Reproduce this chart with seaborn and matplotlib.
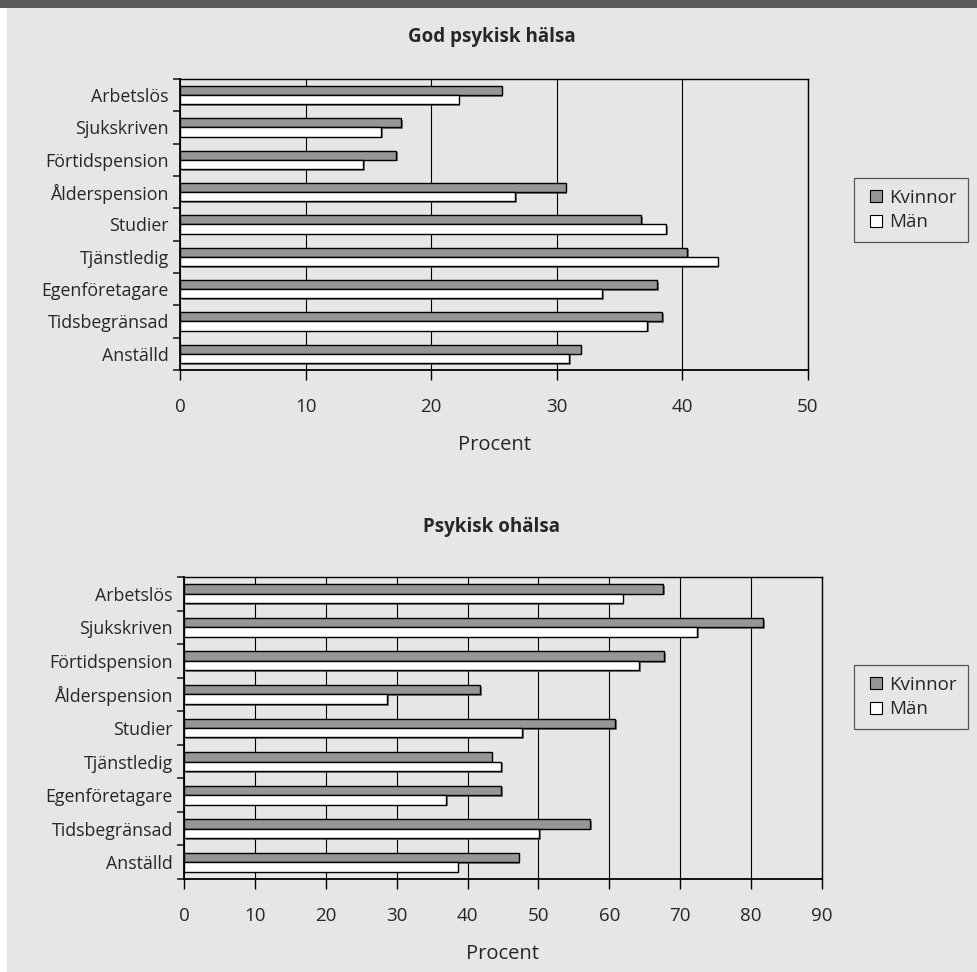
import matplotlib
matplotlib.use("Agg")
import matplotlib.pyplot as plt
import matplotlib.patches as mpatches
import matplotlib.patheffects as pe
from matplotlib.lines import Line2D
import numpy as np
import pandas as pd
import seaborn as sns

# Categories, top to bottom
categories = ["Arbetslös", "Sjukskriven", "Förtidspension", "Ålderspension",
              "Studier", "Tjänstledig", "Egenföretagare", "Tidsbegränsad", "Anställd"]
groups = ["Kvinnor", "Män"]

# Good mental health (%)
god_kvinnor = [25.6, 17.6, 17.2, 30.7, 36.7, 40.4, 38.0, 38.4, 31.9]
god_man = [22.2, 16.0, 14.6, 26.7, 38.7, 42.8, 33.6, 37.2, 31.0]

# Poor mental health (%)
ohalsa_kvinnor = [67.6, 81.7, 67.7, 41.8, 60.8, 43.4, 44.7, 57.3, 47.2]
ohalsa_man = [61.9, 72.4, 64.2, 28.7, 47.7, 44.7, 37.0, 50.1, 38.6]

top_ticks = [0, 10, 20, 30, 40, 50]
bottom_ticks = [0, 10, 20, 30, 40, 50, 60, 70, 80, 90]

BG = "#e6e6e6"
FILL = {"Kvinnor": "#969696", "Män": "#ffffff"}
FONT = ["Open Sans", "DejaVu Sans"]

sns.set_theme(style="white")
plt.rcParams["font.family"] = FONT


def long_frame(kv, man):
    return pd.DataFrame({
        "Yrkesstatus": categories * 2,
        "Kön": ["Kvinnor"] * len(categories) + ["Män"] * len(categories),
        "Procent": list(kv) + list(man),
    })


fig = plt.figure(figsize=(9.78, 9.72), dpi=100, facecolor=BG)

# white left margin and dark header band
fig.add_artist(mpatches.Rectangle((0, 0), 7 / 978, 1, transform=fig.transFigure,
                                  facecolor="white", edgecolor="none", zorder=0))
fig.add_artist(mpatches.Rectangle((0, 1 - 8 / 972), 1, 8 / 972, transform=fig.transFigure,
                                  facecolor="#5a5a5a", edgecolor="none", zorder=1))

ax1 = fig.add_axes([180 / 978, 1 - 370 / 972, 628 / 978, 291 / 972])
ax2 = fig.add_axes([184 / 978, 1 - 879 / 972, 638 / 978, 302 / 972])


def draw(ax, df, ticks, title, title_y, legend_y):
    ax.set_facecolor(BG)
    sns.barplot(data=df, y="Yrkesstatus", x="Procent", hue="Kön",
                order=categories, hue_order=groups, palette=FILL,
                orient="h", width=0.56, dodge=True, errorbar=None,
                edgecolor="black", linewidth=1.0, saturation=1, ax=ax,
                legend=False)
    for p in ax.patches:
        p.set_path_effects([pe.SimplePatchShadow(offset=(1.2, -1.2),
                                                 shadow_rgbFace="#555555", alpha=0.7),
                            pe.Normal()])
    xmax = ticks[-1]
    ax.set_xlim(0, xmax)
    ax.set_ylim(len(categories) - 0.5, -0.5)
    ax.set_xticks(ticks)
    ax.set_xticklabels([str(t) for t in ticks], fontsize=13.5)
    ax.xaxis.grid(True, color="black", linewidth=0.8)
    ax.set_axisbelow(True)
    ax.set_yticks(range(len(categories)))
    ax.set_yticklabels(categories, fontsize=12.8)
    ax.set_yticks(np.arange(-0.5, len(categories), 1.0), minor=True)
    ax.tick_params(axis="y", which="major", length=0, pad=8)
    ax.tick_params(axis="y", which="minor", length=5, width=1.2, color="#222222",
                   direction="out", left=True)
    ax.tick_params(axis="x", which="major", length=7, width=1.0, color="black",
                   direction="out", bottom=True, pad=13)
    ax.set_xlabel("Procent", fontsize=14.5, labelpad=14)
    ax.set_ylabel("")
    for side in ["left", "bottom", "top", "right"]:
        ax.spines[side].set_visible(True)
        ax.spines[side].set_color("black")
        ax.spines[side].set_linewidth(1.0)
    ax.spines["left"].set_linewidth(1.3)
    ax.spines["bottom"].set_linewidth(1.3)

    fig.text(0.503, title_y, title, ha="center", va="center",
             fontsize=13.5, fontweight="bold", family=FONT)

    handles = [Line2D([], [], linestyle="none", marker="s", markersize=8,
                      markerfacecolor=FILL[g], markeredgecolor="black",
                      markeredgewidth=0.8, label=g)
               for g in groups]
    leg = fig.legend(handles=handles, loc="center left",
                     bbox_to_anchor=(854 / 978, legend_y), frameon=True,
                     fontsize=13.5, handlelength=1.3, handletextpad=0.05,
                     borderpad=0.55, labelspacing=0.35,
                     fancybox=False, borderaxespad=0)
    leg.get_frame().set_facecolor(BG)
    leg.get_frame().set_edgecolor("#333333")
    leg.get_frame().set_linewidth(0.9)


draw(ax1, long_frame(god_kvinnor, god_man), top_ticks, "God psykisk hälsa",
     1 - 37 / 972, 1 - 210 / 972)
draw(ax2, long_frame(ohalsa_kvinnor, ohalsa_man), bottom_ticks, "Psykisk ohälsa",
     1 - 527 / 972, 1 - 697 / 972)

fig.savefig("out.png", dpi=100, facecolor=BG)
